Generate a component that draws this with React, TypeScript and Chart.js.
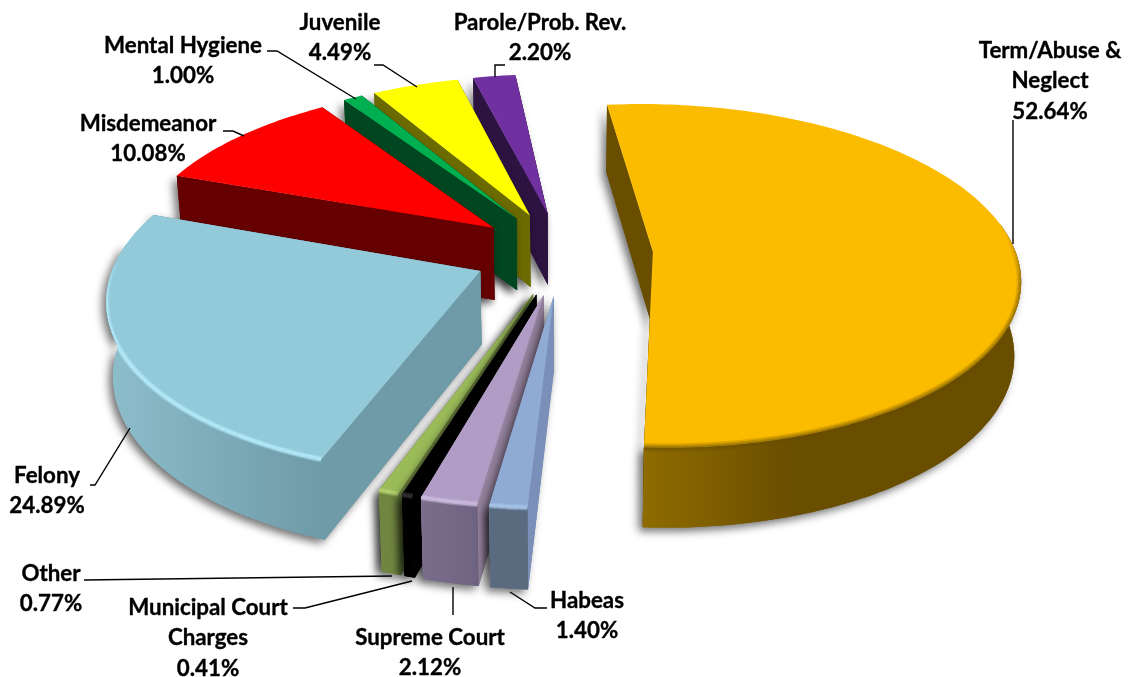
import React, { useEffect, useRef } from "react";
import { Chart, registerables } from "chart.js";

Chart.register(...registerables);

const categories = ["Term/Abuse & Neglect", "Habeas", "Supreme Court", "Municipal Court Charges", "Other", "Felony", "Misdemeanor", "Mental Hygiene", "Juvenile", "Parole/Prob. Rev."];
const shares = [52.64, 1.4, 2.12, 0.41, 0.77, 24.89, 10.08, 1.0, 4.49, 2.2];

const topColors = ["#FBBC00", "#8FABD4", "#B09CC4", "#000000", "#9BBB59", "#92CAD9", "#FF0000", "#00B050", "#FFFF00", "#7030A0"];
const wallColors = ["#6A4E00", "#5A6B80", "#6E6380", "#000000", "#6F8640", "#6F9AA8", "#660000", "#004620", "#6B6B00", "#2D1340"];
const wallLeftColors = ["#8F6C00", "#5A6B80", "#7A6E8C", "#000000", "#6F8640", "#8DBECB", "#660000", "#004620", "#6B6B00", "#2D1340"];
const faceColors = ["#6A4E00", "#7A90B8", "#96839F", "#000000", "#6F8640", "#6F9AA8", "#660000", "#004620", "#6B6B00", "#2D1340"];
const rimColors = ["#6A4E00", "#A8C6EA", "#CDBDE0", "#333333", "#B6D26E", "#B4EBFA", "", "", "", ""];

const labelLines = [
  ["Term/Abuse &", "Neglect", "52.64%"],
  ["Habeas", "1.40%"],
  ["Supreme Court", "2.12%"],
  ["Municipal Court", "Charges", "0.41%"],
  ["Other", "0.77%"],
  ["Felony", "24.89%"],
  ["Misdemeanor", "10.08%"],
  ["Mental Hygiene", "1.00%"],
  ["Juvenile", "4.49%"],
  ["Parole/Prob. Rev.", "2.20%"],
];
const labelAnchors = [[1050, 51], [587, 601], [430, 638], [208, 608], [51, 574], [47, 476], [148, 124], [183, 46], [340, 23], [540, 23]];
const leaders = [
  [[1013, 120], [1013, 244]],
  [[510, 592], [535, 608], [547, 608]],
  [[453, 587], [453, 615]],
  [[293, 608], [305, 608], [412, 581]],
  [[84, 580], [392, 576]],
  [[90, 485], [95, 485], [130, 428]],
  [[223, 131], [233, 131], [244, 136]],
  [[267, 51], [277, 51], [356, 99]],
  [[374, 65], [383, 65], [417, 87]],
  [[505, 65], [495, 65], [495, 77]],
];

const EXPLODE = 90;
const RADIUS = 363;
const TILT = 0.465;
const PERSPECTIVE = 0.14;
const DEPTH = 73;
const CONVERGE = 0.985;

const pie3d = {
  id: "pie3d",
  beforeDatasetsDraw(chart: any) {
    const ctx: CanvasRenderingContext2D = chart.ctx;
    const arcs: any[] = chart.getDatasetMeta(0).data;
    const order = arcs
      .map((a, i) => ({ a, i, s: Math.sin((a.startAngle + a.endAngle) / 2) }))
      .sort((p, q) => p.s - q.s);

    for (const { a, i } of order) {
      const mid = (a.startAngle + a.endAngle) / 2;
      const off = a.options.offset;
      const R = a.outerRadius;
      const pt = (theta: number, r: number, down = false) => {
        const X = off * Math.cos(mid) + r * Math.cos(theta);
        const Y = off * Math.sin(mid) + r * Math.sin(theta);
        const S = 1 / (1 - (PERSPECTIVE * Y) / R);
        return {
          x: a.x + X * S * (down ? CONVERGE : 1),
          y: a.y + Y * TILT * S + (down ? DEPTH * Math.pow(S, 0.6) : 0),
        };
      };
      const samples = (from: number, to: number) => {
        const n = Math.max(2, Math.ceil((to - from) / 0.02));
        return Array.from({ length: n + 1 }, (_, k) => from + ((to - from) * k) / n);
      };
      const poly = (pts: { x: number; y: number }[]) => {
        ctx.beginPath();
        pts.forEach((p, k) => (k ? ctx.lineTo(p.x, p.y) : ctx.moveTo(p.x, p.y)));
        ctx.closePath();
      };
      const arcT = samples(a.startAngle, a.endAngle);
      const frontT = arcT.filter((t) => Math.sin(t) > -0.17);
      const tip = pt(0, 0);
      const tipD = pt(0, 0, true);
      const faceA = [tip, pt(a.startAngle, R), pt(a.startAngle, R, true), tipD];
      const faceB = [tip, pt(a.endAngle, R), pt(a.endAngle, R, true), tipD];
      const outer = frontT.length > 1
        ? [...frontT.map((t) => pt(t, R)), ...frontT.slice().reverse().map((t) => pt(t, R, true))]
        : null;

      let wallFill: any = wallColors[i];
      if (outer) {
        const xs = outer.map((p) => p.x);
        const g = ctx.createLinearGradient(Math.min(...xs), 0, Math.max(...xs), 0);
        g.addColorStop(0, wallLeftColors[i]);
        g.addColorStop(i === 0 ? 0.4 : 1, wallColors[i]);
        wallFill = g;
      }

      // soft cast shadow below the solid
      ctx.save();
      ctx.shadowColor = "rgba(0,0,0,0.55)";
      ctx.shadowBlur = 8;
      ctx.shadowOffsetX = -4;
      ctx.shadowOffsetY = 4;
      ctx.fillStyle = faceColors[i];
      poly(faceA); ctx.fill();
      poly(faceB); ctx.fill();
      if (outer) { ctx.fillStyle = wallFill; poly(outer); ctx.fill(); }
      ctx.restore();

      ctx.fillStyle = faceColors[i];
      poly(faceA); ctx.fill();
      poly(faceB); ctx.fill();
      if (outer) { ctx.fillStyle = wallFill; poly(outer); ctx.fill(); }

      // top face
      const top = [tip, ...arcT.map((t) => pt(t, R))];
      ctx.fillStyle = a.options.backgroundColor;
      poly(top); ctx.fill();

      // bevelled rim that fades in from the sides
      if (rimColors[i] && frontT.length > 1) {
        ctx.save();
        ctx.beginPath();
        top.forEach((p, k) => (k ? ctx.lineTo(p.x, p.y) : ctx.moveTo(p.x, p.y)));
        ctx.closePath();
        if (outer) {
          outer.forEach((p, k) => (k ? ctx.lineTo(p.x, p.y) : ctx.moveTo(p.x, p.y)));
          ctx.closePath();
        }
        ctx.clip("nonzero");
        ctx.strokeStyle = rimColors[i];
        const passes = i === 0 ? [[9, 0.18], [6, 0.25], [3, 0.35]] : [[6, 0.4], [3.5, 0.8]];
        for (let k = 1; k < frontT.length; k++) {
          const t = frontT[k];
          const fade = Math.min(1, Math.max(0, (Math.sin(t) + 0.1) / 0.3));
          const p0 = pt(frontT[k - 1], R);
          const p1 = pt(t, R);
          for (const [w, al] of passes) {
            ctx.globalAlpha = al * fade;
            ctx.lineWidth = w;
            ctx.beginPath();
            ctx.moveTo(p0.x, p0.y);
            ctx.lineTo(p1.x, p1.y);
            ctx.stroke();
          }
        }
        ctx.restore();
      }
    }

    // leader lines
    ctx.save();
    ctx.strokeStyle = "#000000";
    ctx.lineWidth = 1.4;
    for (const line of leaders) {
      ctx.beginPath();
      line.forEach(([x, y], k) => (k ? ctx.lineTo(x, y) : ctx.moveTo(x, y)));
      ctx.stroke();
    }
    // labels
    ctx.fillStyle = "#000000";
    ctx.strokeStyle = "#000000";
    ctx.lineWidth = 0.35;
    ctx.font = "bold 22.3px Lato, sans-serif";
    ctx.textAlign = "center";
    ctx.textBaseline = "middle";
    labelLines.forEach((lines, i) => {
      lines.forEach((text, k) => {
        const y = labelAnchors[i][1] + k * 30.3;
        ctx.fillText(text, labelAnchors[i][0], y);
        ctx.strokeText(text, labelAnchors[i][0], y);
      });
    });
    ctx.restore();
    return false;
  },
};

export default function App() {
  const ref = useRef<HTMLCanvasElement>(null);
  useEffect(() => {
    document.body.style.margin = "0";
    const chart = new Chart(ref.current as HTMLCanvasElement, {
      type: "pie",
      data: {
        labels: categories,
        datasets: [{
          data: shares,
          backgroundColor: topColors,
          borderWidth: 0,
          offset: EXPLODE,
          radius: RADIUS,
        } as any],
      },
      options: {
        animation: false,
        responsive: false,
        rotation: -6.3,
        layout: { padding: { bottom: 171, right: 2 } },
        plugins: { legend: { display: false }, tooltip: { enabled: false } },
      },
      plugins: [pie3d as any],
    });
    return () => chart.destroy();
  }, []);
  return (
    <div style={{ width: 1128, height: 677, background: "#fff" }}>
      <canvas ref={ref} width={1128} height={677} style={{ display: "block" }} />
    </div>
  );
}
